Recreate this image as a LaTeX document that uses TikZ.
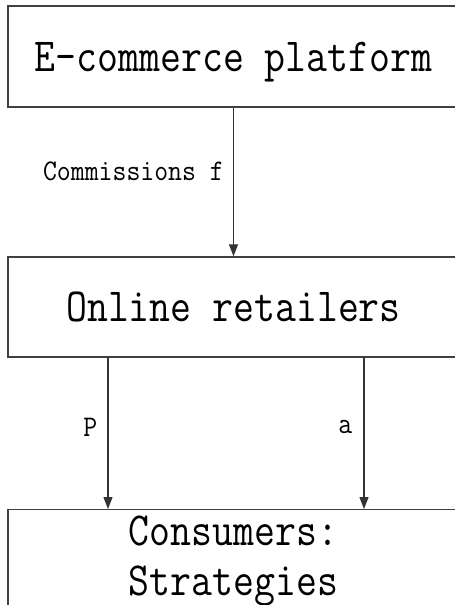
\documentclass[tikz,border=0pt]{standalone}
\usepackage{fontspec}
\usepackage{graphicx}
\usetikzlibrary{arrows.meta}
\newcommand\bigsq[1]{\scalebox{0.855}[1]{#1}}
\newcommand\smsq[1]{\scalebox{0.9}[1]{#1}}
\tikzset{
  box/.style={draw=black!75, line width=1.4pt, minimum width=451pt, inner sep=0pt,
    font=\ttfamily\fontsize{47.5}{50}\selectfont, text height=29pt, text depth=0pt},
  arr/.style={draw=black!80, line width=1.3pt, -{Triangle[length=12pt,width=9pt]}},
  lbl/.style={font=\ttfamily\fontsize{30}{32}\selectfont, inner sep=0pt, anchor=base east}
}
\begin{document}
\begin{tikzpicture}[x=1pt,y=-1pt]
\useasboundingbox (0,0) rectangle (455,605);
\clip (0,0) rectangle (455,605);
\node[box, minimum height=101pt] (top) at (233.5,56.5) {\bigsq{E-commerce platform}};
\node[box, minimum height=100pt] (mid) at (233.5,307) {\bigsq{Online retailers}};
\node[box, anchor=north, align=center, text height=, text depth=, inner ysep=6pt,
      font=\ttfamily\fontsize{47.5}{50}\selectfont] (bot) at (233.5,509)
  {\bigsq{Consumers:}\\\bigsq{Strategies}};
\draw[arr] (top.south) -- node[lbl, pos=0.487, xshift=-9pt] {\smsq{Commissions f}} (mid.north);
\draw[arr] ([xshift=-125.5pt]mid.south) -- node[lbl, pos=0.52, xshift=-10pt] {\smsq{P}} ([xshift=-125.5pt]bot.north);
\draw[arr] ([xshift=130.5pt]mid.south) -- node[lbl, pos=0.50, xshift=-11pt] {\smsq{a}} ([xshift=130.5pt]bot.north);
\end{tikzpicture}
\end{document}
